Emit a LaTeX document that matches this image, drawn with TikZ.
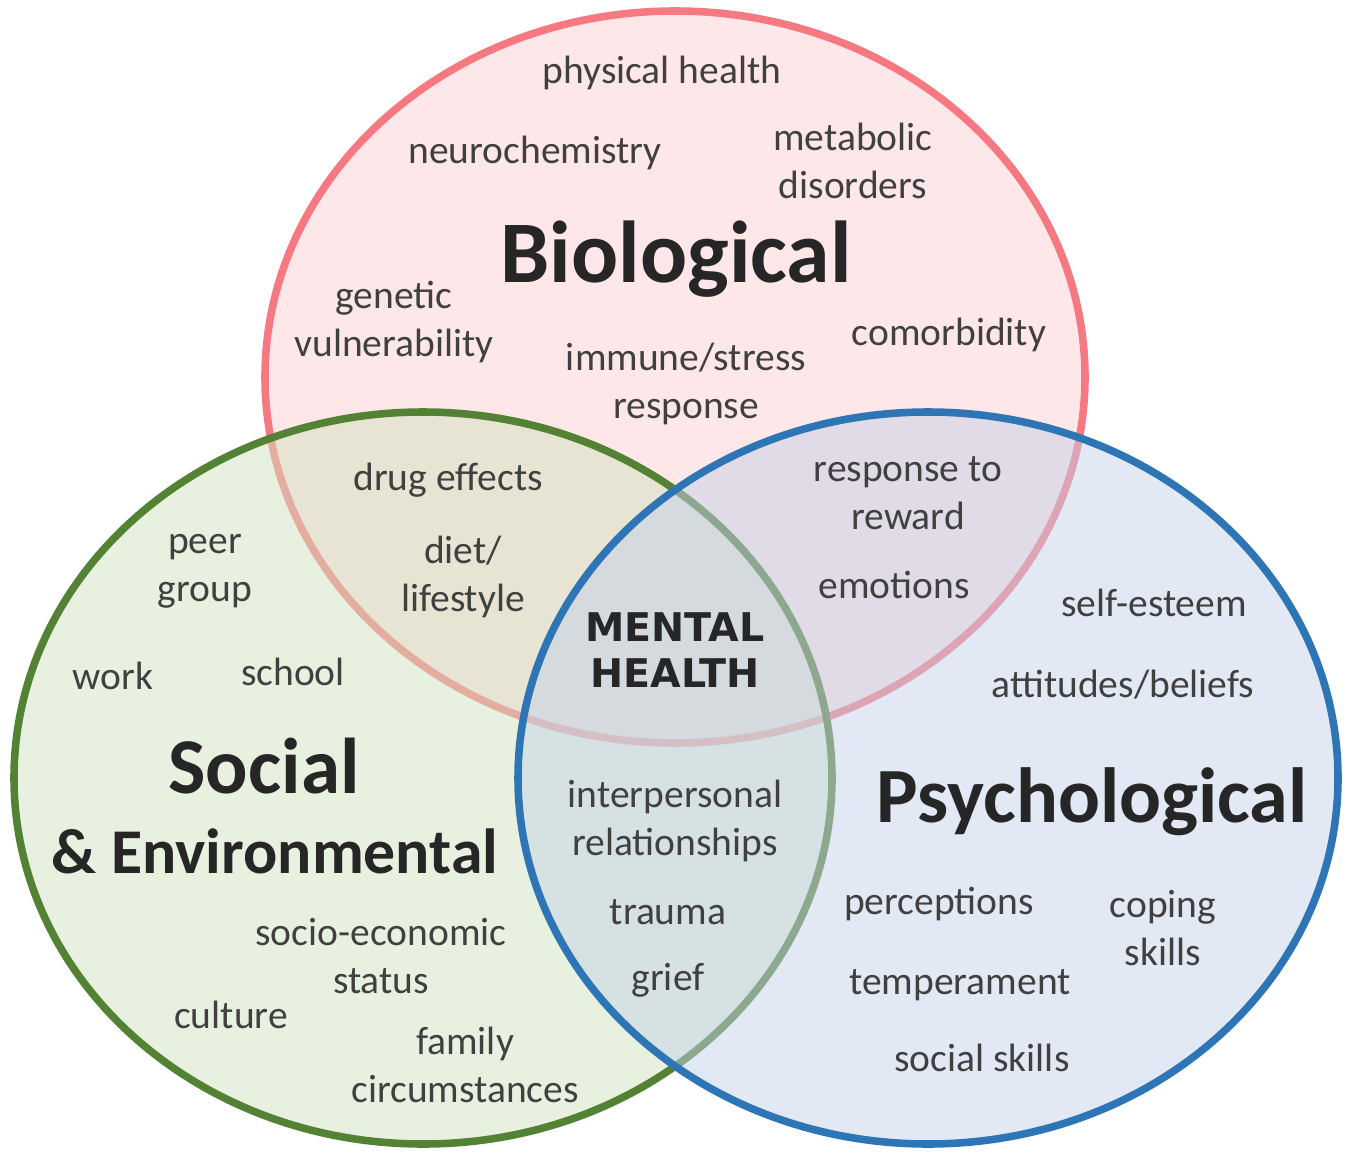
\documentclass[tikz,border=0pt]{standalone}
\usepackage{fontspec}
\setmainfont{Carlito}
\newfontfamily\mhfont{DejaVu Sans}
\definecolor{bioline}{HTML}{F67880}
\definecolor{biofill}{HTML}{FEE7E8}
\definecolor{socline}{HTML}{548235}
\definecolor{socfill}{HTML}{D1E3C1}
\definecolor{psyline}{HTML}{2E75B6}
\definecolor{psyfill}{HTML}{C5D1E9}
\definecolor{itemgray}{HTML}{404040}
\definecolor{headgray}{HTML}{262626}
\tikzset{
  item/.style={font=\fontsize{22.5}{27.2}\selectfont, text=itemgray, align=center, inner sep=0pt},
  head/.style={font=\fontsize{#1}{#1}\selectfont\bfseries, text=headgray, anchor=base, inner sep=0pt},
  head/.default=45,
  core/.style={font=\mhfont\fontsize{22.5}{26}\selectfont\bfseries, text=headgray, align=center, inner sep=0pt},
  ring/.style={line width=4.3pt, fill opacity=.5}
}
\begin{document}
\begin{tikzpicture}[x=.02cm, y=-.02cm]
\useasboundingbox (0,0) rectangle (1346,1153);

% the three circles
\draw[ring, draw=bioline, fill=biofill, fill opacity=1] (675,377) ellipse [x radius=410, y radius=366];
\draw[ring, draw=socline, fill=socfill] (423,778) ellipse [x radius=409, y radius=366];
\draw[ring, draw=psyline, fill=psyfill] (928,778) ellipse [x radius=410, y radius=366];

% biological
\node[head=50] (bio) at (676,282) {Biological};
\node[item, anchor=base] (physhealth) at (662,83) {physical health};
\node[item, anchor=base] (neurochem) at (535,163) {neurochemistry};
\node[item] (metabolic) at (853,161) {metabolic\\disorders};
\node[item] (genetic) at (394,322) {genetic\\vulnerability};
\node[item] (immune) at (686,384) {immune/stress\\response};
\node[item, anchor=base] (comorb) at (949,345) {comorbidity};

% biological and social
\node[item, anchor=base] (drugs) at (448,490) {drug effects};
\node[item] (diet) at (463,577) {diet/\\lifestyle};

% biological and psychological
\node[item] (reward) at (908,493) {response to\\reward};
\node[item, anchor=base] (emotions) at (894,598) {emotions};

% centre
\node[core] (mental) at (675,650) {MENTAL\\HEALTH};

% social
\node[head=45] (soc) at (264,793) {Social};
\node[head=36.3] (socenv) at (275,873) {\& Environmental};
\node[item] (peer) at (205,571) {peer\\group};
\node[item, anchor=base] (work) at (113,689) {work};
\node[item, anchor=base] (school) at (293,685) {school};
\node[item] (socioeco) at (381,956) {socio-economic\\status};
\node[item, anchor=base] (culture) at (231,1028) {culture};
\node[item] (family) at (465,1065) {family\\circumstances};

% social and psychological
\node[item] (interpers) at (675,821) {interpersonal\\relationships};
\node[item, anchor=base] (trauma) at (668,924) {trauma};
\node[item, anchor=base] (grief) at (668,990) {grief};

% psychological
\node[head=44.5] (psy) at (1092,822) {Psychological};
\node[item, anchor=base] (esteem) at (1154,616) {self-esteem};
\node[item, anchor=base] (attitudes) at (1123,697) {attitudes/beliefs};
\node[item, anchor=base] (percept) at (939,914) {perceptions};
\node[item] (coping) at (1163,928) {coping\\skills};
\node[item, anchor=base] (temper) at (960,994) {temperament};
\node[item, anchor=base] (socskills) at (982,1071) {social skills};
\end{tikzpicture}
\end{document}
